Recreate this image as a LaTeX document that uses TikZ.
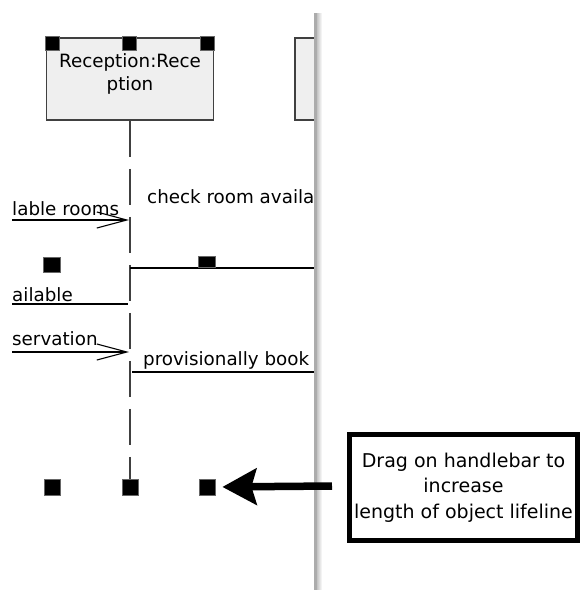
\documentclass[tikz,border=0pt]{standalone}
\usepackage{fontspec}
\setmainfont{DejaVu Sans}
\usepackage{xcolor}
\usetikzlibrary{arrows.meta,positioning,calc}
\definecolor{objfill}{HTML}{EFEFEF}
\definecolor{objline}{HTML}{404040}

\begin{document}
\begin{tikzpicture}[x=1pt, y=-1pt,
  obj/.style={draw=objline, line width=1.5pt, fill=objfill, minimum width=167pt, minimum height=82pt, inner sep=0pt},
  objname/.style={align=center, inner sep=0pt, font=\fontsize{18.3}{23}\selectfont},
  hnd/.style={fill=black, draw=black!60, line width=0.8pt, minimum size=14pt, inner sep=0pt},
  msg/.style={font=\fontsize{18.3}{22}\selectfont, inner sep=0pt, anchor=base west},
  ln/.style={line width=1.2pt},
  arr/.style={ln, -{Straight Barb[length=30pt, width=16pt, line width=1.1pt]}},
  life/.style={draw=objline, line width=1.4pt, dash pattern=on 36pt off 12pt},
  note/.style={draw, line width=5pt, minimum width=228pt, minimum height=106pt, align=center, font=\fontsize{19}{25.5}\selectfont},
  big/.style={line width=7.5pt, -{Stealth[length=34pt, width=36pt, inset=5pt]}}
]
\useasboundingbox (0,0) rectangle (585,590);

% object and its lifeline
\node[obj] (recep) at (130,79) {};
\node[objname, anchor=north] (recepname) at (130,53) {Reception:Rece\\ption};
\filldraw[draw=objline, line width=1.5pt, fill=objfill] (295,38) rectangle (318,120);
\node[hnd] (htl) at (52.5,43) {};
\node[hnd] (htm) at (129,43) {};
\node[hnd] (htr) at (207,43) {};
\node[hnd, minimum size=16pt] (hbl) at (52,487) {};
\node[hnd, minimum size=16pt] (hbm) at (130,487) {};
\node[hnd, minimum size=16pt] (hbr) at (207,487) {};
\draw[life] (recep.south) -- (hbm.north);

% messages
\coordinate (m1a) at (12,220);  \coordinate (m1b) at (129,220);
\coordinate (m2a) at (130,268); \coordinate (m2b) at (318,268);
\coordinate (m3a) at (12,304);  \coordinate (m3b) at (128,304);
\coordinate (m4a) at (12,352);  \coordinate (m4b) at (129,352);
\coordinate (m5a) at (132,372); \coordinate (m5b) at (318,372);
\node[msg] (t1) at (12,215)  {lable rooms};
\node[msg] (t2) at (147,203) {check room availa};
\node[msg] (t3) at (12,301)  {ailable};
\node[msg] (t4) at (12,345)  {servation};
\node[msg] (t5) at (143,365) {provisionally book};
\draw[arr] (m1a) -- (m1b);
\draw[ln] (m2a) -- (m2b);
\draw[ln] (m3a) -- (m3b);
\draw[arr] (m4a) -- (m4b);
\draw[ln] (m5a) -- (m5b);
\node[hnd, minimum width=17pt, minimum height=15pt] (hml) at (52,265) {};
\node[hnd, minimum width=17pt, minimum height=11pt] (hmr) at (207,262) {};

% window edge
\shade[left color=gray!55, right color=white] (316,13) rectangle (322,590);
\fill[gray!65] (313.5,13) rectangle (316.5,590);

% note
\node[note] (hint) at (463.5,487.5) {Drag on handlebar to\\increase\\length of object lifeline};
\coordinate (tail) at (332,486);
\draw[big] (tail) -- (hbr.east) [shorten >=7pt];
\end{tikzpicture}
\end{document}
